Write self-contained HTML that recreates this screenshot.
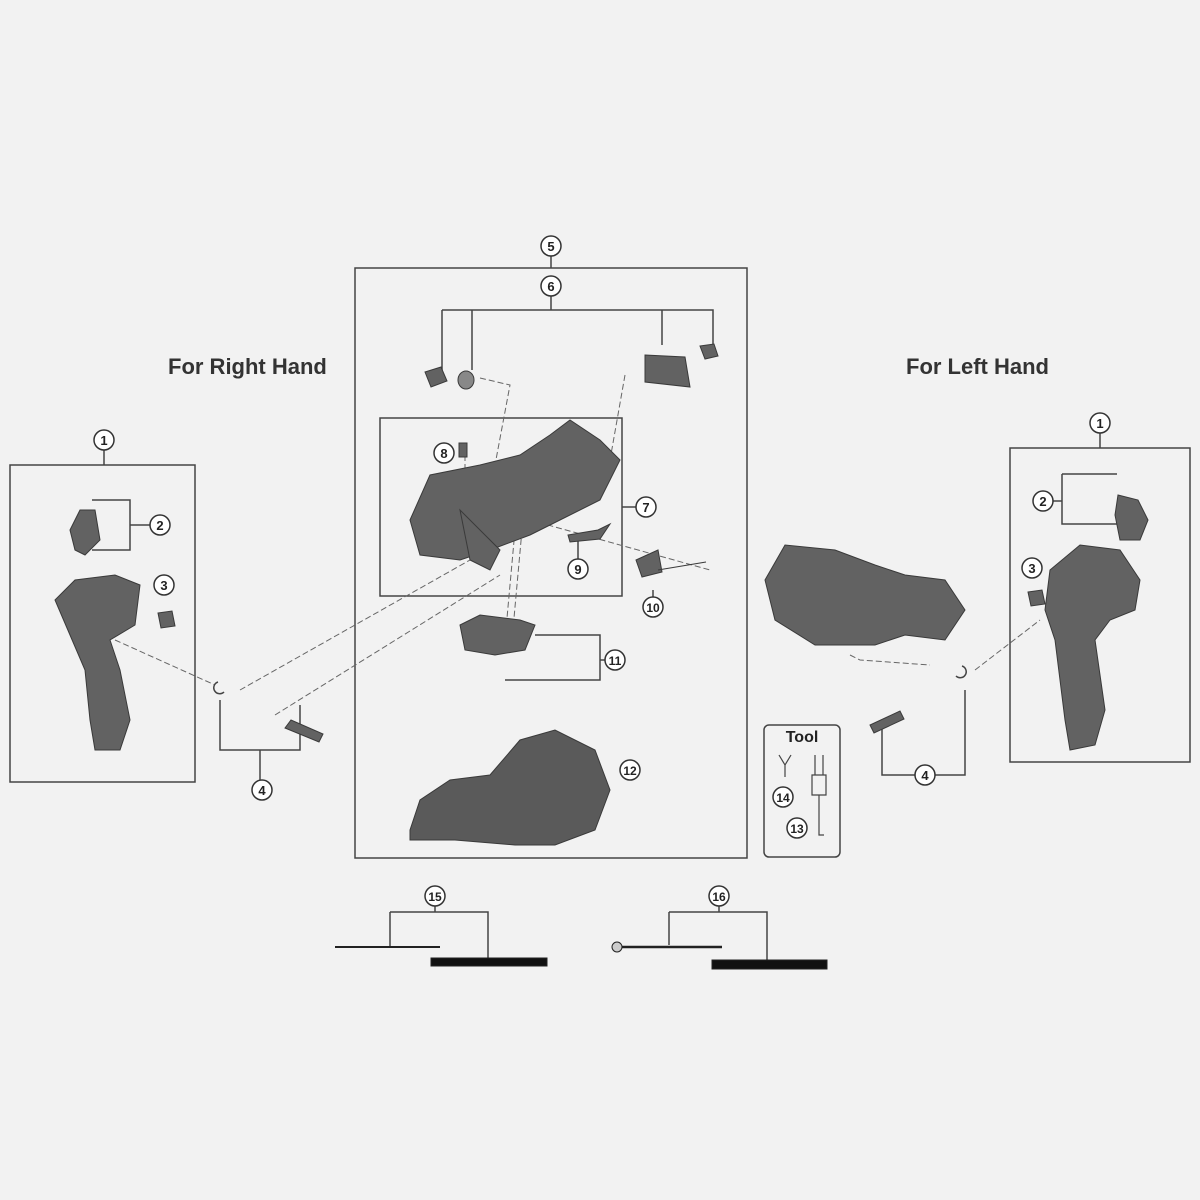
<!DOCTYPE html>
<html><head><meta charset="utf-8"><style>
html,body{margin:0;padding:0;background:#f2f2f2}
svg{display:block}
text{font-family:"Liberation Sans",sans-serif}
</style></head><body>
<svg width="1200" height="1200" viewBox="0 0 1200 1200" xmlns="http://www.w3.org/2000/svg">
<defs>
<g id="c"><circle r="10" fill="#fff" stroke="#333" stroke-width="1.5"/></g>
</defs>
<rect width="1200" height="1200" fill="#f2f2f2"/>
<g fill="none" stroke="#444" stroke-width="1.5">
<rect x="355" y="268" width="392" height="590"/>
<rect x="380" y="418" width="242" height="178"/>
<rect x="10" y="465" width="185" height="317"/>
<rect x="1010" y="448" width="180" height="314"/>
<rect x="764" y="725" width="76" height="132" rx="5"/>
<path d="M551 256V268M551 296V310M442 310H713V345M442 310V370M472 310V370M662 310V345"/>
<path d="M622 507H636"/>
<path d="M104 450V465M1100 433V448"/>
<path d="M92 500H130V550H92M130 525H150"/>
<path d="M1053 501H1062M1062 474H1117M1062 474V524H1117"/>
<path d="M220 700V750H300V705M260 750V780"/>
<path d="M882 720V775H915M935 775H965V690"/>
<path d="M578 535V559M653 590V597"/>
<path d="M535 635H600V680H505M600 660H605"/>
<path d="M390 912H488V960M390 912V948M435 906V912"/>
<path d="M669 912H767V960M669 912V945M719 906V912"/>
</g>
<g fill="none" stroke="#666" stroke-width="1" stroke-dasharray="6,3">
<path d="M480 378L510 385L495 465H520"/>
<path d="M625 375L610 460H590"/>
<path d="M465 455L465 510"/>
<path d="M240 690L470 560M275 715L500 575"/>
<path d="M515 530L505 640M522 530L512 640"/>
<path d="M530 520L710 570"/>
<path d="M115 640L215 685"/>
<path d="M850 655L860 660L930 665M975 670L1040 620"/>
</g>
<g fill="#626262" stroke="#3a3a3a" stroke-width="1">
<path d="M425 372l16-5 6 14-16 6z"/>
<ellipse cx="466" cy="380" rx="8" ry="9" fill="#888"/>
<path d="M645 355l40 2 5 30-45-5z"/>
<path d="M700 346l14-2 4 12-13 3z"/>
<path d="M410 520l20-45 50-10 40-10 30-20 20-15 30 20 20 20-20 40-50 25-20 10-40 15-30 10-40-5z"/>
<path d="M460 510l10 50 20 10 10-20z"/>
<rect x="459" y="443" width="8" height="14"/>
<path d="M568 535l30-5 12-6-10 15-30 3z"/>
<path d="M636 560l22-10 4 22-20 5z"/>
<path d="M658 570l48-8" fill="none"/>
<path d="M460 625l20-10 40 5 15 5-10 25-30 5-30-5z"/>
<path d="M410 830l10-30 30-20 40-5 30-35 35-10 40 20 15 40-15 40-40 15-40 0-60-5-45 0z" fill="#5a5a5a"/>
<path d="M70 530l10-20 15 0 5 30-15 15-10-5z"/>
<path d="M55 600l20-20 40-5 25 10-5 40-25 15 10 30 10 50-10 30-25 0-5-30-5-50-15-35z"/>
<path d="M158 613l14-2 3 15-14 2z"/>
<path d="M1118 495l20 5 10 20-8 20-20 0-5-25z"/>
<path d="M1050 570l30-25 40 5 20 30-5 30-25 10-15 20 10 70-10 35-25 5-5-30 -10-80-10-30z"/>
<path d="M1028 592l14-2 3 14-14 2z"/>
<path d="M765 580l20-35 50 5 40 15 30 10 40 5 20 30-20 30-40-5-30 10-60 0-40-25z"/>
<path d="M285 728l6-8 32 14-4 8z"/>
<path d="M870 725l4 8 30-14-4-8z"/>
</g>
<g fill="none" stroke="#444" stroke-width="1.5">
<path d="M218 682a6 6 0 1 0 6 10"/>
<path d="M962 666a6 6 0 1 1 -6 10"/>
</g>
<g stroke="#222">
<line x1="335" y1="947" x2="440" y2="947" stroke-width="2"/>
<rect x="431" y="958" width="116" height="8" fill="#111"/>
<line x1="615" y1="947" x2="722" y2="947" stroke-width="2.5"/>
<circle cx="617" cy="947" r="5" fill="#ccc"/>
<rect x="712" y="960" width="115" height="9" fill="#111"/>
</g>
<g fill="none" stroke="#444" stroke-width="1.2">
<path d="M779 755l6 10 6-10M785 765v12"/>
<path d="M815 755v20M823 755v20M812 775h14v20h-14zM819 795v40h5"/>
</g>
<g font-weight="bold" font-size="13" text-anchor="middle" fill="#222">
<use href="#c" x="551" y="246"/><text x="551" y="251">5</text>
<use href="#c" x="551" y="286"/><text x="551" y="291">6</text>
<use href="#c" x="444" y="453"/><text x="444" y="458">8</text>
<use href="#c" x="646" y="507"/><text x="646" y="512">7</text>
<use href="#c" x="578" y="569"/><text x="578" y="574">9</text>
<use href="#c" x="653" y="607"/><text x="653" y="612" font-size="12">10</text>
<use href="#c" x="615" y="660"/><text x="615" y="665" font-size="12">11</text>
<use href="#c" x="630" y="770"/><text x="630" y="775" font-size="12">12</text>
<use href="#c" x="104" y="440"/><text x="104" y="445">1</text>
<use href="#c" x="160" y="525"/><text x="160" y="530">2</text>
<use href="#c" x="164" y="585"/><text x="164" y="590">3</text>
<use href="#c" x="262" y="790"/><text x="262" y="795">4</text>
<use href="#c" x="1100" y="423"/><text x="1100" y="428">1</text>
<use href="#c" x="1043" y="501"/><text x="1043" y="506">2</text>
<use href="#c" x="1032" y="568"/><text x="1032" y="573">3</text>
<use href="#c" x="925" y="775"/><text x="925" y="780">4</text>
<use href="#c" x="783" y="797"/><text x="783" y="802" font-size="12">14</text>
<use href="#c" x="797" y="828"/><text x="797" y="833" font-size="12">13</text>
<use href="#c" x="435" y="896"/><text x="435" y="901" font-size="12">15</text>
<use href="#c" x="719" y="896"/><text x="719" y="901" font-size="12">16</text>
<text x="802" y="742" font-size="16">Tool</text>
</g>
<g font-weight="bold" font-size="22" fill="#333">
<text x="168" y="374">For Right Hand</text>
<text x="906" y="374">For Left Hand</text>
</g>
</svg>
</body></html>
